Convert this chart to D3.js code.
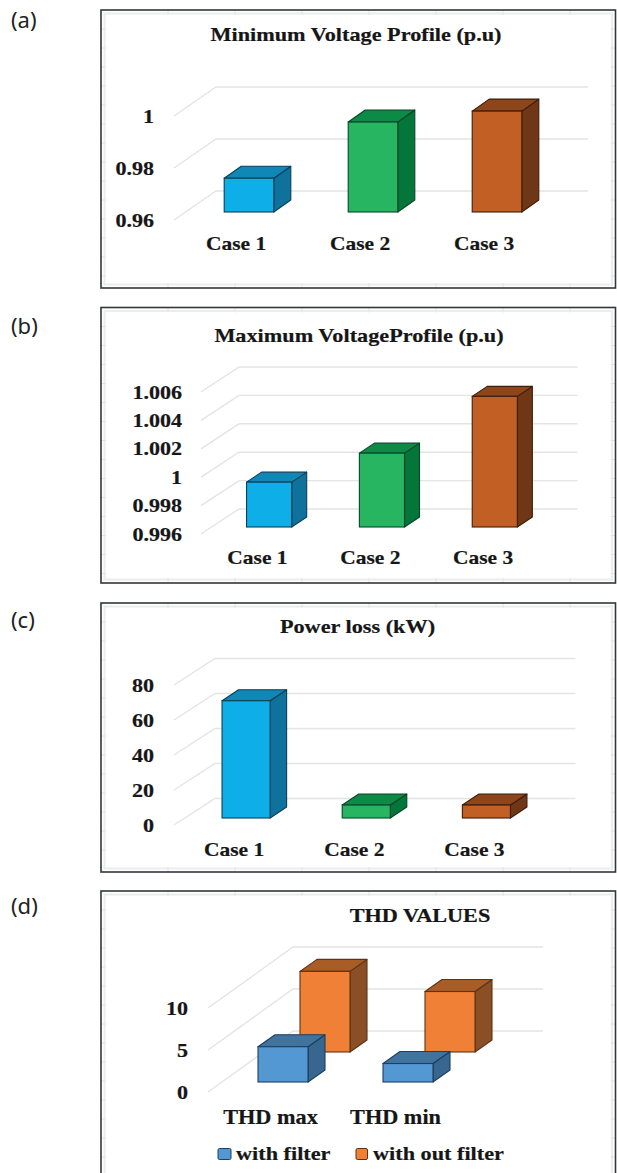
<!DOCTYPE html>
<html>
<head>
<meta charset="utf-8">
<script src="https://cdn.jsdelivr.net/npm/d3@7"></script>
<style>
  html, body { margin: 0; padding: 0; background: #fff; overflow: hidden; }
  text { font-family: "Liberation Serif", serif; font-weight: bold; fill: #161616; stroke: #161616; stroke-width: 0.2px; }
  text.panel-tag { font-family: "Noto Sans", sans-serif; font-weight: normal; font-size: 22px; fill: #222; stroke: none; }
</style>
</head>
<body>
<div id="chart"></div>
<script>
// values
const cases = ["Case 1", "Case 2", "Case 3"];
const minVoltage = [0.973, 0.9946, 0.9988];
const minVoltageTicks = [0.96, 0.98, 1];
const maxVoltage = [0.99916, 1.0012, 1.0052];
const maxVoltageTicks = [0.996, 0.998, 1, 1.002, 1.004, 1.006];
const powerLoss = [67, 7.4, 7.4];
const powerLossTicks = [0, 20, 40, 60, 80];
const thdCats = ["THD max", "THD min"];
const thdWithFilter = [4.2, 2.2];
const thdWithoutFilter = [9.6, 7.2];
const thdTicks = [0, 5, 10];
const thdSeries = ["with filter", "with out filter"];

const caseColors = [
  {front: "#0eaee8", top: "#0f87b7", side: "#0f729c", line: "#0b3f57"},
  {front: "#28b562", top: "#0e8a47", side: "#047639", line: "#07472a"},
  {front: "#c25f25", top: "#8d461c", side: "#6f3715", line: "#3f1d0b"}
];
const thdColors = [
  {front: "#5397d3", top: "#41739f", side: "#376690", line: "#1f3f5c"},
  {front: "#f08035", top: "#a85c26", side: "#8a4f24", line: "#5e3314"}
];

const W = 617, H = 1173;
// the picture was widened when pasted, so the text is wider than the font
const textWiden = 1.16;

const svg = d3.select("#chart").append("svg")
  .attr("width", W)
  .attr("height", H)
  .style("display", "block");

function widen(sel, k) {
  sel.each(function() {
    d3.select(this)
      .attr("textLength", this.getComputedTextLength() * k)
      .attr("lengthAdjust", "spacingAndGlyphs");
  });
}

// frame with the faint excel handles inside it
function frame(x0, x1, y0, y1) {
  const g = svg.append("g");
  g.append("rect")
    .attr("x", x0 + 3.5).attr("y", y0 + 3.5)
    .attr("width", x1 - x0 - 7).attr("height", y1 - y0 - 7)
    .attr("fill", "none").attr("stroke", "#ececec").attr("stroke-width", 2);
  d3.range(x0 + 67, x1 - 5, 67).forEach(function(x) {
    [[y0, y0 + 5], [y1 - 5, y1]].forEach(function(s) {
      g.append("line").attr("x1", x).attr("x2", x).attr("y1", s[0]).attr("y2", s[1])
        .attr("stroke", "#e4e4e4");
    });
  });
  d3.range(y0 + 19, y1 - 5, 19).forEach(function(y) {
    [[x0, x0 + 5], [x1 - 5, x1]].forEach(function(s) {
      g.append("line").attr("x1", s[0]).attr("x2", s[1]).attr("y1", y).attr("y2", y)
        .attr("stroke", "#e4e4e4");
    });
  });
  g.append("rect")
    .attr("x", x0).attr("y", y0)
    .attr("width", x1 - x0).attr("height", y1 - y0)
    .attr("fill", "none").attr("stroke", "#33363b").attr("stroke-width", 1.6);
}

function bar(g, x, w, yBase, yTop, bd, c) {
  const pts = function(a) { return a.map(function(p) { return p.join(","); }).join(" "); };
  g.append("polygon")
    .attr("points", pts([[x + w, yBase], [x + w + bd[0], yBase + bd[1]], [x + w + bd[0], yTop + bd[1]], [x + w, yTop]]))
    .attr("fill", c.side).attr("stroke", c.line).attr("stroke-width", 1.1).attr("stroke-linejoin", "round");
  g.append("polygon")
    .attr("points", pts([[x, yTop], [x + bd[0], yTop + bd[1]], [x + w + bd[0], yTop + bd[1]], [x + w, yTop]]))
    .attr("fill", c.top).attr("stroke", c.line).attr("stroke-width", 1.1).attr("stroke-linejoin", "round");
  g.append("rect")
    .attr("x", x).attr("y", yTop).attr("width", w).attr("height", yBase - yTop)
    .attr("fill", c.front).attr("stroke", c.line).attr("stroke-width", 1.1);
}

function panel(p) {
  svg.append("text").attr("class", "panel-tag")
    .attr("x", 11).attr("y", p.tagY).text(p.tag);
  frame(101, 615.5, p.top, p.bottom);

  svg.append("text")
    .attr("x", p.titleX).attr("y", p.titleY)
    .attr("text-anchor", "middle")
    .style("font-size", "19px")
    .text(p.title)
    .call(widen, p.titleWiden);

  const x = d3.scaleBand().domain(p.cats).range([p.left, p.right]).paddingInner(0.6).paddingOuter(0.3);
  const y = d3.scaleLinear().domain(d3.extent(p.ticks)).range([p.floor, p.ceil]);

  // gridlines: back wall and left wall
  const grid = svg.append("g").attr("stroke", "#e4e4e4").attr("stroke-width", 1.4).attr("fill", "none");
  p.ticks.forEach(function(t) {
    grid.append("path").attr("d", d3.line()([
      [p.left, y(t)],
      [p.left + p.depth[0], y(t) + p.depth[1]],
      [p.right + p.depth[0], y(t) + p.depth[1]]
    ]));
  });

  // bars, back series first
  p.series.slice().reverse().forEach(function(s) {
    const g = svg.append("g");
    s.values.forEach(function(v, i) {
      const c = s.colors[i % s.colors.length];
      bar(g, x(p.cats[i]) + s.offset[0], x.bandwidth(),
        y(y.domain()[0]) + s.offset[1], y(v) + s.offset[1], p.barDepth, c);
    });
  });

  const yAxis = d3.axisLeft(y).tickValues(p.ticks).tickSize(0).tickPadding(0).tickFormat(String);
  const yg = svg.append("g")
    .attr("transform", `translate(${p.tickX}, 0)`)
    .call(yAxis);
  yg.select(".domain").remove();
  yg.selectAll("text")
    .attr("font-family", null)
    .style("font-size", "19px")
    .call(widen, textWiden);

  const xAxis = d3.axisBottom(x).tickSize(0).tickPadding(0);
  const xg = svg.append("g")
    .attr("transform", `translate(0, ${p.catY})`)
    .call(xAxis);
  xg.select(".domain").remove();
  xg.selectAll("text")
    .attr("dy", 0).attr("y", 0)
    .style("font-size", p.catSize + "px")
    .call(widen, p.catWiden);
}

panel({
  tag: "(a)", tagY: 28, top: 10, bottom: 288,
  title: "Minimum Voltage Profile (p.u)", titleX: 356, titleY: 41, titleWiden: 1.17,
  cats: cases, ticks: minVoltageTicks,
  series: [{values: minVoltage, colors: caseColors, offset: [13, -8]}],
  left: 174, right: 546, floor: 220, ceil: 116, depth: [42, -29], barDepth: [17, -12],
  tickX: 154, catY: 250, catSize: 19, catWiden: 1.13
});

panel({
  tag: "(b)", tagY: 334, top: 307.5, bottom: 583,
  title: "Maximum VoltageProfile (p.u)", titleX: 359, titleY: 342, titleWiden: 1.17,
  cats: cases, ticks: maxVoltageTicks,
  series: [{values: maxVoltage, colors: caseColors, offset: [11.7, -7]}],
  left: 201, right: 539.5, floor: 534, ceil: 392, depth: [38, -25], barDepth: [15, -10],
  tickX: 182, catY: 564, catSize: 19, catWiden: 1.13
});

panel({
  tag: "(c)", tagY: 628, top: 603, bottom: 872,
  title: "Power loss (kW)", titleX: 357.5, titleY: 633, titleWiden: 1.17,
  cats: cases, ticks: powerLossTicks,
  series: [{values: powerLoss, colors: caseColors, offset: [12, -7]}],
  left: 174, right: 534.5, floor: 825, ceil: 685, depth: [41, -26.5], barDepth: [16.5, -11],
  tickX: 154, catY: 856, catSize: 19, catWiden: 1.13
});

panel({
  tag: "(d)", tagY: 914, top: 891, bottom: 1185,
  title: "THD VALUES", titleX: 420, titleY: 922, titleWiden: 1.17,
  cats: thdCats, ticks: thdTicks,
  series: [
    {values: thdWithFilter, colors: [thdColors[0]], offset: [12.5, -10]},
    {values: thdWithoutFilter, colors: [thdColors[1]], offset: [54.5, -40]}
  ],
  left: 208, right: 458, floor: 1092, ceil: 1008, depth: [85, -61], barDepth: [17, -12],
  tickX: 188, catY: 1124, catSize: 21, catWiden: 1.06
});

// legend of (d)
const legendX = d3.scaleOrdinal().domain(thdSeries).range([218, 356]);
const legend = svg.append("g");
thdSeries.forEach(function(name, i) {
  const lx = legendX(name);
  legend.append("rect")
    .attr("x", lx).attr("y", 1148.5)
    .attr("width", i ? 11.5 : 13).attr("height", 11)
    .attr("rx", 1.5)
    .attr("fill", thdColors[i].front)
    .attr("stroke", thdColors[i].line);
  legend.append("text")
    .attr("x", lx + (i ? 17 : 18)).attr("y", 1160)
    .style("font-size", "19px")
    .text(name)
    .call(widen, 1.17);
});
</script>
</body>
</html>
